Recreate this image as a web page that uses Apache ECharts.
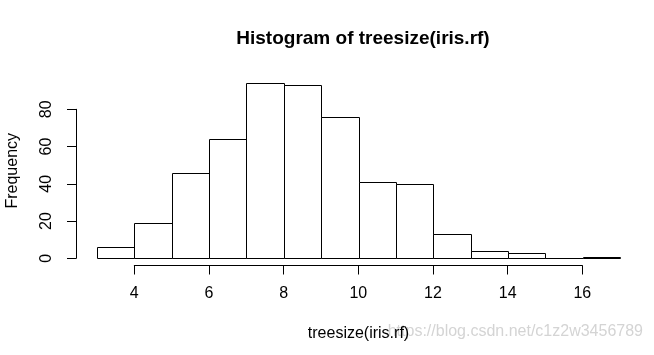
<!DOCTYPE html>
<html lang="en">
<head>
    <meta charset="UTF-8">
    <title>Histogram of treesize(iris.rf)</title>
    <script src="https://cdn.jsdelivr.net/npm/echarts/dist/echarts.min.js"></script>
    <style>
        html, body { margin: 0; padding: 0; background: #fff; }
    </style>
</head>
<body>
    <div id="chart" style="width: 654px; height: 355px;"></div>

    <script>
        // 直方图数据：每个 bin 的左右边界和频数
        const binLo = [3, 4, 5, 6, 7, 8, 9, 10, 11, 12, 13, 14, 15, 16];
        const binHi = [4, 5, 6, 7, 8, 9, 10, 11, 12, 13, 14, 15, 16, 17];
        const counts = [6, 19, 46, 64, 94, 93, 76, 41, 40, 13, 4, 3, 0, 1];

        // 坐标轴刻度
        const xTickMin = 4, xTickMax = 16, xTickStep = 2;
        const yTickMin = 0, yTickMax = 80, yTickStep = 20;

        const font = 'Liberation Sans, Arial, sans-serif';

        // R 的默认 4% 扩展
        const xMin = 3, xMax = 17;
        const yTop = Math.max(...counts);
        const xPad = (xMax - xMin) * 0.04;
        const yPad = yTop * 0.04;

        const histData = binLo.map((lo, i) => [lo, binHi[i], counts[i]]);

        const chart = echarts.init(document.getElementById('chart'));

        const hiddenAxis = {
            axisLine: { show: false },
            axisTick: { show: false },
            axisLabel: { show: false },
            splitLine: { show: false }
        };

        const option = {
            backgroundColor: '#fff',
            animation: false,
            title: {
                text: 'Histogram of treesize(iris.rf)',
                left: 358,
                top: 24,
                textAlign: 'center',
                textStyle: { fontFamily: font, fontSize: 19, fontWeight: 'bold', color: '#000' }
            },
            grid: [
                // 主绘图区
                { left: 76, top: 76, width: 565, height: 189.5, containLabel: false, outerBoundsMode: 'none' },
                // x 轴 (4..16)
                { left: 134.3, top: 76, width: 448, height: 189.5, containLabel: false, outerBoundsMode: 'none' },
                // y 轴 (0..80)
                { left: 76, top: 109.3, width: 565, height: 149, containLabel: false, outerBoundsMode: 'none' }
            ],
            xAxis: [
                Object.assign({
                    type: 'value', gridIndex: 0,
                    min: xMin - xPad, max: xMax + xPad,
                    name: 'treesize(iris.rf)',
                    nameLocation: 'middle',
                    nameGap: 60,
                    nameTextStyle: { fontFamily: font, fontSize: 16, color: '#000' }
                }, hiddenAxis),
                {
                    type: 'value', gridIndex: 1,
                    min: xTickMin, max: xTickMax, interval: xTickStep,
                    axisLine: { show: true, lineStyle: { color: '#000', width: 1 } },
                    axisTick: { show: true, length: 9, lineStyle: { color: '#000', width: 1 } },
                    axisLabel: { show: true, margin: 20, fontFamily: font, fontSize: 16, color: '#000' },
                    splitLine: { show: false }
                },
                Object.assign({ type: 'value', gridIndex: 2 }, hiddenAxis)
            ],
            yAxis: [
                Object.assign({
                    type: 'value', gridIndex: 0,
                    min: -yPad, max: yTop + yPad,
                    name: 'Frequency',
                    nameLocation: 'middle',
                    nameRotate: 90,
                    nameGap: 55,
                    nameTextStyle: { fontFamily: font, fontSize: 16, color: '#000' }
                }, hiddenAxis),
                Object.assign({ type: 'value', gridIndex: 1 }, hiddenAxis),
                {
                    type: 'value', gridIndex: 2,
                    min: yTickMin, max: yTickMax, interval: yTickStep,
                    axisLine: { show: true, lineStyle: { color: '#000', width: 1 } },
                    axisTick: { show: true, length: 9, lineStyle: { color: '#000', width: 1 } },
                    axisLabel: { show: true, rotate: 90, margin: 21, fontFamily: font, fontSize: 16, color: '#000' },
                    splitLine: { show: false }
                }
            ],
            graphic: [
                {
                    type: 'text',
                    right: 11,
                    top: 324,
                    style: {
                        text: 'https://blog.csdn.net/c1z2w3456789',
                        font: '16px ' + font,
                        fill: '#d4d4d4'
                    }
                }
            ],
            series: [
                {
                    type: 'custom',
                    xAxisIndex: 0,
                    yAxisIndex: 0,
                    clip: false,
                    data: histData,
                    encode: { x: [0, 1], y: 2 },
                    renderItem: function (params, api) {
                        const p0 = api.coord([api.value(0), api.value(2)]);
                        const p1 = api.coord([api.value(1), 0]);
                        return {
                            type: 'rect',
                            shape: {
                                x: Math.round(p0[0]) + 0.5,
                                y: Math.round(p0[1]) + 0.5,
                                width: Math.round(p1[0]) - Math.round(p0[0]),
                                height: Math.round(p1[1]) - Math.round(p0[1])
                            },
                            style: { fill: '#fff', stroke: '#000', lineWidth: 1 }
                        };
                    }
                }
            ]
        };

        chart.setOption(option);
    </script>
</body>
</html>
